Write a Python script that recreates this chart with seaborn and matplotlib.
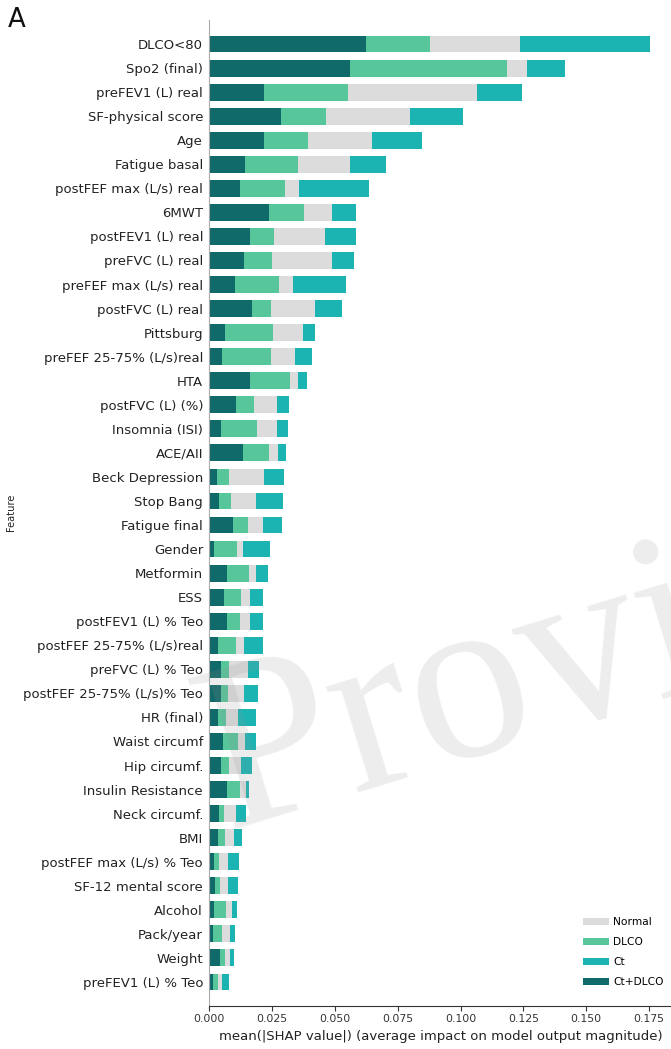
import matplotlib
matplotlib.use("Agg")
import matplotlib.pyplot as plt
import seaborn as sns
import pandas as pd
import numpy as np
from matplotlib.patches import Patch

features = [
    "DLCO<80", "Spo2 (final)", "preFEV1 (L) real", "SF-physical score", "Age",
    "Fatigue basal", "postFEF max (L/s) real", "6MWT", "postFEV1 (L) real",
    "preFVC (L) real", "preFEF max (L/s) real", "postFVC (L) real", "Pittsburg",
    "preFEF 25-75% (L/s)real", "HTA", "postFVC (L) (%)", "Insomnia (ISI)", "ACE/AII",
    "Beck Depression", "Stop Bang", "Fatigue final", "Gender", "Metformin", "ESS",
    "postFEV1 (L) % Teo", "postFEF 25-75% (L/s)real", "preFVC (L) % Teo",
    "postFEF 25-75% (L/s)% Teo", "HR (final)", "Waist circumf", "Hip circumf.",
    "Insulin Resistance", "Neck circumf.", "BMI", "postFEF max (L/s) % Teo",
    "SF-12 mental score", "Alcohol", "Pack/year", "Weight", "preFEV1 (L) % Teo",
]

# mean(|SHAP|) per class
ct_dlco = [0.0622, 0.0560, 0.0217, 0.0285, 0.0216, 0.0142, 0.0121, 0.0237, 0.0162,
           0.0138, 0.0103, 0.0170, 0.0061, 0.0050, 0.0162, 0.0106, 0.0046, 0.0133,
           0.0029, 0.0038, 0.0095, 0.0019, 0.0069, 0.0057, 0.0070, 0.0036, 0.0048,
           0.0045, 0.0036, 0.0053, 0.0045, 0.0072, 0.0038, 0.0034, 0.0017, 0.0024,
           0.0019, 0.0013, 0.0042, 0.0013]
dlco = [0.0256, 0.0624, 0.0333, 0.0180, 0.0175, 0.0209, 0.0181, 0.0138, 0.0094,
        0.0111, 0.0173, 0.0075, 0.0191, 0.0195, 0.0160, 0.0070, 0.0144, 0.0103,
        0.0049, 0.0050, 0.0059, 0.0090, 0.0087, 0.0069, 0.0051, 0.0070, 0.0030,
        0.0029, 0.0032, 0.0060, 0.0033, 0.0049, 0.0022, 0.0027, 0.0023, 0.0018,
        0.0049, 0.0036, 0.0022, 0.0020]
normal = [0.0360, 0.0080, 0.0515, 0.0332, 0.0256, 0.0209, 0.0053, 0.0113, 0.0203,
          0.0239, 0.0058, 0.0175, 0.0121, 0.0094, 0.0032, 0.0094, 0.0080, 0.0037,
          0.0139, 0.0098, 0.0058, 0.0024, 0.0028, 0.0036, 0.0041, 0.0031, 0.0077,
          0.0065, 0.0047, 0.0030, 0.0048, 0.0025, 0.0046, 0.0036, 0.0034, 0.0034,
          0.0022, 0.0033, 0.0018, 0.0019]
ct = [0.0515, 0.0151, 0.0181, 0.0211, 0.0200, 0.0143, 0.0279, 0.0097, 0.0123,
      0.0086, 0.0211, 0.0108, 0.0049, 0.0071, 0.0036, 0.0047, 0.0043, 0.0032,
      0.0080, 0.0108, 0.0078, 0.0110, 0.0049, 0.0053, 0.0051, 0.0075, 0.0043,
      0.0056, 0.0071, 0.0041, 0.0042, 0.0012, 0.0039, 0.0032, 0.0044, 0.0037,
      0.0019, 0.0021, 0.0017, 0.0028]

classes = ["Normal", "DLCO", "Ct", "Ct+DLCO"]
colors = {"Normal": "#dcdcdc", "DLCO": "#58c69b", "Ct": "#1bb4b2", "Ct+DLCO": "#116a6a"}

c1 = np.array(ct_dlco)
c2 = c1 + np.array(dlco)
c3 = c2 + np.array(normal)
c4 = c3 + np.array(ct)
df = pd.DataFrame({"feature": features, "c1": c1, "c2": c2, "c3": c3, "c4": c4})

fig = plt.figure(figsize=(6.71, 10.49), dpi=100)
ax = fig.add_axes([209.3 / 671, 1 - 1006 / 1049, 1 - 209.3 / 671, (1006 - 20) / 1049])

for col, cls in [("c4", "Ct"), ("c3", "Normal"), ("c2", "DLCO"), ("c1", "Ct+DLCO")]:
    sns.barplot(data=df, x=col, y="feature", orient="h", color=colors[cls],
                width=0.7, saturation=1, ax=ax, order=features, linewidth=0)

n = len(features)
ax.set_ylim(n, -1)
ax.set_xlim(0, 0.1837)
ax.set_xticks([0, 0.025, 0.05, 0.075, 0.1, 0.125, 0.15, 0.175])
ax.set_xticklabels(["0.000", "0.025", "0.050", "0.075", "0.100", "0.125", "0.150", "0.175"])
for s in ["top", "right"]:
    ax.spines[s].set_visible(False)
ax.spines["left"].set_color("#aaaaaa")
ax.spines["left"].set_linewidth(0.8)
ax.spines["bottom"].set_color("#333333")
ax.spines["bottom"].set_linewidth(0.8)
ax.tick_params(axis="y", length=0, pad=4.5, labelsize=9.5, labelcolor="#222222")
ax.tick_params(axis="x", length=3.5, width=0.8, color="#333333", labelsize=7.8,
               labelcolor="#333333", pad=2)
ax.set_ylabel("")
ax.set_xlabel("mean(|SHAP value|) (average impact on model output magnitude)",
              fontsize=9.5, color="#222222", labelpad=3)
ax.xaxis.set_label_coords((440.5 - 209.3) / (671 - 209.3), -0.024)

fig.text(11 / 671, 0.512, "Feature", rotation=90, ha="center", va="center",
         fontsize=7.1, color="#222222")
fig.text(8 / 671, 1 - 27 / 1049, "A", ha="left", va="baseline", fontsize=18.7,
         color="#111111")

handles = [Patch(facecolor=colors[c], edgecolor="none", label=c) for c in classes]
fig.legend(handles=handles, loc="upper left", bbox_to_anchor=(583 / 671, 1 - 917 / 1049),
           frameon=False, fontsize=7.7, handlelength=2.4, handleheight=0.65,
           handletextpad=0.45, labelspacing=0.95, borderpad=0, borderaxespad=0)

fig.text(227 / 671, 1 - 830 / 1049, "Provi", family="Liberation Serif",
         fontsize=172, color="#949494", alpha=0.17, rotation=17,
         rotation_mode="anchor", ha="left", va="baseline", zorder=10)

fig.savefig("out.png", dpi=100)
